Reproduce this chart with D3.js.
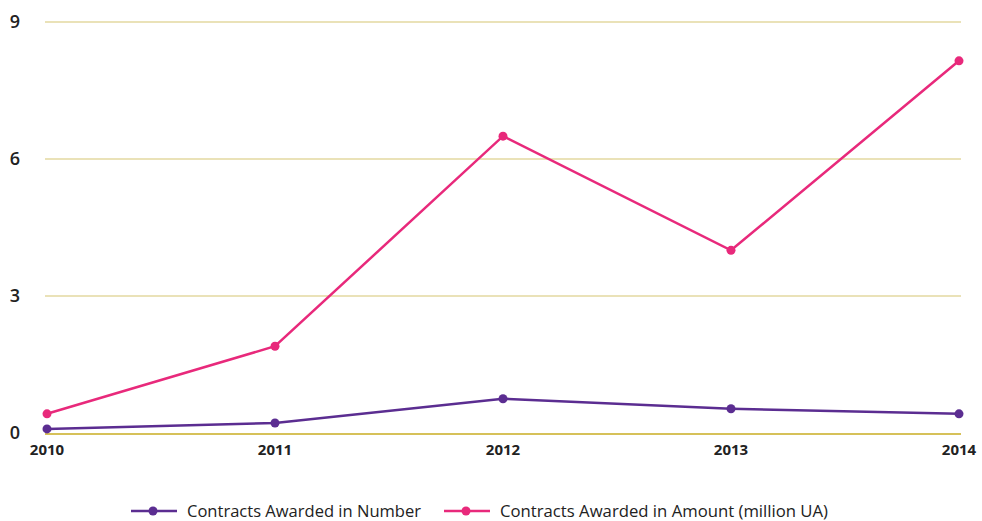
<!DOCTYPE html>
<html><head><meta charset="utf-8">
<script src="https://cdn.jsdelivr.net/npm/d3@7"></script>
<style>body{margin:0;background:#fff}svg{display:block}</style>
</head><body>
<svg id="c" width="982" height="521"></svg>
<script>
const years = ["2010","2011","2012","2013","2014"];
const contractsNumber = [0.09, 0.22, 0.75, 0.53, 0.42];
const contractsAmount = [0.42, 1.9, 6.5, 4.0, 8.15];
const yTicks = [0, 3, 6, 9];
const seriesNames = ["Contracts Awarded in Number", "Contracts Awarded in Amount (million UA)"];
const colors = ["#5b2d91", "#e8297b"];

const svg = d3.select("#c");
const x = d3.scalePoint().domain(years).range([47, 959]);
const y = d3.scaleLinear().domain([0, 9]).range([433, 22]);
const font = "'Open Sans', sans-serif";

svg.append("g").selectAll("line").data(yTicks.filter(d => d > 0)).join("line")
  .attr("x1", 45).attr("x2", 961).attr("y1", d => y(d)).attr("y2", d => y(d))
  .attr("stroke", "#e3d9a0").attr("stroke-width", 1.3);
svg.append("line").attr("x1", 45).attr("x2", 961).attr("y1", y(0)+1).attr("y2", y(0)+1)
  .attr("stroke", "#c9ad22").attr("stroke-width", 1.5);

svg.append("g").selectAll("text").data(yTicks).join("text")
  .attr("x", 15).attr("y", d => y(d)).attr("dy", "0.35em").attr("text-anchor", "middle")
  .attr("font-family", font).attr("font-weight", 600).attr("font-size", 18).attr("fill", "#222")
  .text(d => d);

svg.append("g").selectAll("text").data(years).join("text")
  .attr("x", d => x(d)).attr("y", 450).attr("dy", "0.35em").attr("text-anchor", "middle")
  .attr("font-family", font).attr("font-weight", "bold").attr("font-size", 15).attr("fill", "#222")
  .text(d => d);

[contractsNumber, contractsAmount].forEach((vals, i) => {
  const line = d3.line().x((d, j) => x(years[j])).y(d => y(d));
  svg.append("path").datum(vals).attr("d", line).attr("fill", "none")
    .attr("stroke", colors[i]).attr("stroke-width", 2.5);
  svg.append("g").selectAll("circle").data(vals).join("circle")
    .attr("cx", (d, j) => x(years[j])).attr("cy", d => y(d)).attr("r", 4.5).attr("fill", colors[i]);
});

const legendX = [131, 444];
const legendTextLen = [234, 328];
seriesNames.forEach((name, i) => {
  const g = svg.append("g").attr("transform", `translate(${legendX[i]},511)`);
  g.append("line").attr("x1", 0).attr("x2", 46).attr("stroke", colors[i]).attr("stroke-width", 2.5);
  g.append("circle").attr("cx", 22).attr("r", 4.5).attr("fill", colors[i]);
  g.append("text").attr("x", 56).attr("dy", "0.35em")
    .attr("textLength", legendTextLen[i]).attr("lengthAdjust", "spacingAndGlyphs")
    .attr("font-family", font).attr("font-size", 17).attr("fill", "#222").text(name);
});
</script>
</body></html>
